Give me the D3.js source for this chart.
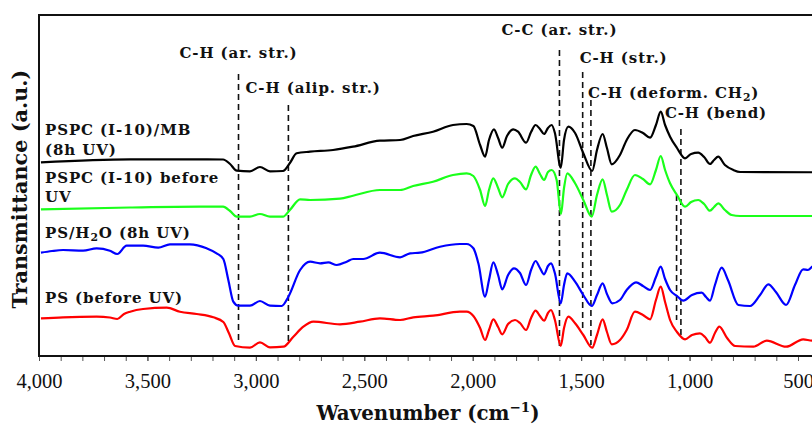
<!DOCTYPE html>
<html>
<head>
<meta charset="utf-8">
<script src="https://cdn.jsdelivr.net/npm/d3@7/dist/d3.min.js"></script>
<style>
  body { margin: 0; background: #fff; }
  svg { display: block; }
  .lbl { font-family: "DejaVu Serif", serif; font-weight: bold; font-size: 15px; letter-spacing: 0.9px; fill: #111; }
  .tick text { font-family: "Liberation Serif", serif; font-size: 20.5px; fill: #111; }
</style>
</head>
<body>
<div id="chart"></div>
<script>
// x ticks (cm-1)
const wnTicks = [4000, 3500, 3000, 2500, 2000, 1500, 1000, 500];

// spectra: [wavenumber, transmittance (a.u.)]
const psMbUv = [[3991,193.7],[3580,196.7],[3258,196.7],[3151,196.5],[3119,192],[3088,185.3],[3027,184.7],[2981,189],[2935,184.7],[2875,185],[2843,193],[2812,202.7],[2750,204.3],[2644,206],[2552,209.3],[2428,215.3],[2335,216],[2275,220],[2183,224.3],[2091,231],[2028,232],[1997,230],[1966,211],[1943,199.3],[1925,216],[1902,226.7],[1883,218],[1864,208.3],[1842,220],[1813,226.7],[1791,224.3],[1754,213.3],[1731,224],[1710,231],[1690,227],[1671,222],[1653,228],[1636,231],[1621,223],[1594,188.3],[1579,216],[1559,229.3],[1528,223],[1490,202.7],[1449,185],[1427,206],[1401,222],[1381,208],[1359,191.7],[1321,201],[1290,216],[1252,226],[1215,223],[1182,218.3],[1155,231],[1133,244.3],[1113,231],[1090,219.3],[1058,208],[1021,197.7],[993,202],[960,203.3],[933,199],[906,192],[887,196],[868,199.3],[837,191],[798,186],[767,184],[400,183.7]];

const pspcBefore = [[3991,146.7],[3580,148.5],[3258,149.3],[3151,149.3],[3119,145],[3088,139.3],[3027,139.3],[2981,142],[2935,139.3],[2875,139.3],[2843,146],[2796,156.7],[2750,156],[2612,157.3],[2552,160.3],[2428,166],[2335,166],[2275,170],[2183,174.3],[2091,181],[2028,182.7],[1997,180],[1966,166],[1943,150],[1925,166],[1905,177.7],[1883,168],[1864,158.7],[1837,172],[1805,177.7],[1782,174],[1754,166.7],[1731,181],[1710,189.3],[1690,182],[1671,176],[1653,184],[1636,186],[1613,176],[1593,142],[1579,168],[1564,182.7],[1528,172.7],[1490,156],[1451,139.3],[1427,161],[1401,176.7],[1381,161],[1359,144.3],[1321,151],[1290,166],[1252,181],[1215,177],[1182,171.7],[1155,186],[1133,200],[1113,186],[1090,172.7],[1058,161],[1021,149.3],[993,154],[960,156],[933,152],[906,145.3],[887,149],[868,152.7],[837,146],[806,141],[767,140],[400,140]];

const psH2oUv = [[3991,103.3],[3940,105],[3889,106],[3797,105.3],[3734,107.7],[3673,105.3],[3639,102],[3596,110.3],[3520,110.3],[3450,108.3],[3396,111.7],[3304,111.7],[3227,107.7],[3181,102.7],[3150,97],[3127,76],[3104,54.3],[3081,50.3],[3027,50.3],[2981,55],[2935,50.3],[2881,50],[2850,59.3],[2796,86],[2750,94.3],[2704,92.7],[2666,93.7],[2627,91],[2581,94.3],[2551,97],[2505,97],[2428,103.3],[2335,98.7],[2289,102.7],[2243,103.3],[2151,109.3],[2059,112],[2028,112],[1997,107.7],[1974,92.7],[1943,59.3],[1925,76],[1905,93.7],[1883,81],[1864,66.7],[1837,81],[1810,87.7],[1782,83],[1754,71],[1731,86],[1710,95],[1690,88],[1671,81.7],[1653,90],[1639,92.7],[1621,82.7],[1594,52.7],[1579,71],[1564,82.7],[1528,74.3],[1490,61],[1451,50],[1427,61],[1401,72.7],[1381,62],[1356,52.7],[1321,56],[1290,66],[1247,73.7],[1215,70],[1182,66],[1155,79],[1133,89.3],[1113,77],[1090,66],[1058,60],[1029,55.3],[989,61],[944,63.3],[924,59],[906,55.3],[883,71],[852,88.3],[823,76],[775,51],[721,50],[675,61],[637,71.7],[602,64],[555,51],[514,71],[476,86.7],[454,86],[435,89.3],[399,92]];

const psBefore = [[3991,37.7],[3889,38.7],[3734,39.3],[3673,38.5],[3639,37],[3608,42],[3580,44.3],[3520,47],[3411,48.3],[3350,44.3],[3273,42],[3196,38.7],[3150,34],[3124,22.7],[3096,10],[3027,8.3],[2981,13.7],[2935,8.7],[2873,9.3],[2827,19.3],[2781,29.3],[2735,34.3],[2612,31.7],[2520,34.3],[2428,37.7],[2335,36],[2274,38.7],[2182,40.3],[2059,44.3],[2028,44.3],[1997,40],[1966,28],[1943,16],[1925,26],[1905,36.7],[1883,29],[1864,21.7],[1837,32],[1805,36],[1782,33],[1754,26],[1731,38],[1710,45.3],[1690,40],[1671,35.3],[1653,43],[1639,46],[1621,36],[1594,10],[1579,28],[1559,39.3],[1528,32.7],[1490,21],[1449,8.3],[1427,21],[1401,36.7],[1381,24],[1359,11.7],[1321,16],[1290,26],[1252,44.3],[1215,41],[1182,36.7],[1155,56],[1133,69.3],[1113,54],[1090,36],[1058,24],[1021,16.7],[989,21],[952,22.7],[929,19],[906,13.3],[883,23],[863,29.3],[827,18],[790,10],[706,9.3],[644,15.3],[555,9.3],[476,16.7],[435,15.3],[399,16]];

const seriesNames = [["PSPC (I-10)/MB", "(8h UV)"], ["PSPC (I-10) before", "UV"], ["PS/H_2O (8h UV)"], ["PS (before UV)"]];
const seriesColors = ["#000000", "#1aff1a", "#0000ff", "#ff0000"];

// band assignments (cm-1)
const bandWn = [3080, 2850, 1600, 1493, 1455, 1060, 1040];
const bandNames = ["C-H (ar. str.)", "C-H (alip. str.)", "C-C (ar. str.)", "C-H (str.)", "C-H (deform. CH_2)", "", "C-H (bend)"];

const width = 812, height = 431;
const plotLeft = 39, plotTop = 15, plotBottom = 356;
const plotRight = plotLeft + 3600 * 0.21686;

const svg = d3.select("#chart").append("svg")
    .attr("width", width)
    .attr("height", height);

const x = d3.scaleLinear().domain([4000, 400]).range([plotLeft, plotRight]);
const y = d3.scaleLinear().domain([0, 341]).range([plotBottom, plotTop]);

svg.append("clipPath").attr("id", "plotClip")
    .append("rect")
    .attr("x", plotLeft).attr("y", plotTop)
    .attr("width", plotRight - plotLeft).attr("height", plotBottom - plotTop);

// minor ticks
svg.append("g")
    .attr("transform", `translate(0,${plotBottom})`)
    .call(d3.axisBottom(x).tickValues(d3.range(4000, 400, -100)).tickSize(5).tickFormat(""))
    .call(g => g.select(".domain").remove())
    .call(g => g.selectAll("line").attr("stroke", "#555"));

// major ticks + labels
svg.append("g")
    .attr("transform", `translate(0,${plotBottom})`)
    .call(d3.axisBottom(x).tickValues(wnTicks).tickSize(5).tickFormat(d3.format(",")))
    .call(g => g.select(".domain").remove())
    .call(g => g.selectAll("line").attr("stroke", "#555"))
    .call(g => g.selectAll("text").attr("y", 32).attr("dy", null));

// subscript helper: "CH_2" -> CH<sub>2</sub>
function richText(sel, str) {
    const parts = str.split(/_(\d)/);
    parts.forEach((p, i) => {
        if (!p) return;
        if (i % 2 === 1) {
            sel.append("tspan").attr("dy", 3).attr("font-size", "0.72em").text(p);
        } else {
            const t = sel.append("tspan").text(p);
            if (i > 0) t.attr("dy", -3);
        }
    });
}

// dashed band markers [top px, bottom px]; labels hang off a reference band
const bandLayout = [
    { y0: 74, y1: 343, anchor: "middle", ref: 0, dx: 0, ty: 58 },
    { y0: 105, y1: 343, anchor: "start", ref: 0, dx: 7, ty: 93 },
    { y0: 50, y1: 347, anchor: "middle", ref: 2, dx: 0, ty: 35 },
    { y0: 72, y1: 330, anchor: "start", ref: 3, dx: -3, ty: 63 },
    { y0: 100, y1: 345, anchor: "start", ref: 4, dx: -3, ty: 98 },
    { y0: 195, y1: 320, anchor: "start", ref: 5, dx: 0, ty: 0 },
    { y0: 129, y1: 335, anchor: "start", ref: 6, dx: -16, ty: 117.5 }
];

const bands = svg.append("g");
bandWn.forEach((wn, i) => {
    const L = bandLayout[i];
    bands.append("line")
        .attr("x1", x(wn)).attr("x2", x(wn))
        .attr("y1", L.y0).attr("y2", L.y1)
        .attr("stroke", "#111")
        .attr("stroke-width", 1.6)
        .attr("stroke-dasharray", "6,4");
});

// spectra
const line = d3.line()
    .x(d => x(d[0]))
    .y(d => y(d[1]))
    .curve(d3.curveMonotoneX);

const spectra = [psMbUv, pspcBefore, psH2oUv, psBefore];
svg.append("g").attr("clip-path", "url(#plotClip)")
    .selectAll("path")
    .data(spectra)
    .join("path")
    .attr("d", line)
    .attr("fill", "none")
    .attr("stroke", (d, i) => seriesColors[i])
    .attr("stroke-width", 2.2)
    .attr("stroke-linejoin", "round");

bandNames.forEach((name, i) => {
    if (!name) return;
    const L = bandLayout[i];
    const t = svg.append("text").attr("class", "lbl")
        .attr("x", x(bandWn[L.ref]) + L.dx)
        .attr("y", L.ty)
        .attr("text-anchor", L.anchor);
    richText(t, name);
});

// series labels
const nameRows = [[134.5, 154.5], [183, 202], [237.5], [302.5]];
seriesNames.forEach((rows, i) => {
    rows.forEach((r, j) => {
        const t = svg.append("text").attr("class", "lbl")
            .attr("x", 45)
            .attr("y", nameRows[i][j]);
        richText(t, r);
    });
});

// frame
svg.append("rect")
    .attr("x", plotLeft).attr("y", plotTop)
    .attr("width", plotRight - plotLeft).attr("height", plotBottom - plotTop)
    .attr("fill", "none")
    .attr("stroke", "#111")
    .attr("stroke-width", 2);

// axis titles
const xt = svg.append("text")
    .attr("x", 428).attr("y", 420)
    .attr("text-anchor", "middle")
    .style("font-family", "DejaVu Serif, serif")
    .style("font-weight", "bold")
    .style("font-size", "19.8px")
    .style("fill", "#111");
xt.append("tspan").text("Wavenumber (cm");
xt.append("tspan").attr("dy", -8).attr("font-size", "13.5px").text("\u22121");
xt.append("tspan").attr("dy", 8).text(")");

svg.append("text")
    .attr("transform", `translate(27,189) rotate(-90)`)
    .attr("text-anchor", "middle")
    .style("font-family", "DejaVu Serif, serif")
    .style("font-weight", "bold")
    .style("font-size", "20.8px")
    .style("fill", "#111")
    .text("Transmittance (a.u.)");
</script>
</body>
</html>
